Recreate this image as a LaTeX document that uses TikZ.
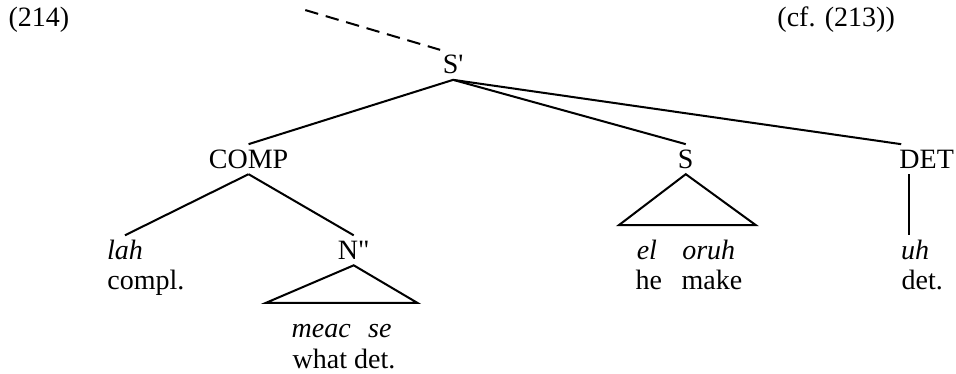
\documentclass[tikz,border=0pt]{standalone}
\usepackage{fontspec}
\setmainfont{Liberation Serif}
\usetikzlibrary{positioning, calc}
\tikzset{
    cat/.style={anchor=base, inner xsep=1pt, inner ysep=2.5pt, text height=8pt, text depth=0pt},
    word/.style={cat, font=\fontsize{12.5}{14}\selectfont\itshape},
    gloss/.style={cat},
    exnum/.style={anchor=base, inner sep=0pt},
    branch/.style={line width=0.9pt},
    trace/.style={line width=0.9pt, dash pattern=on 6pt off 3.5pt},
}

\begin{document}
\begin{tikzpicture}[font=\fontsize{12.5}{14}\selectfont]

    \useasboundingbox (0,0) rectangle (15,5.868);

    % ── Example numbers ───────────────────────────────────────────
    \node[exnum] (num) at (0.61, 5.46) {(214)};
    \node[exnum] (cf)  at (13.12, 5.46) {(cf. (213))};

    % ── Categories ────────────────────────────────────────────────
    \node[cat] (sbar) at (7.11, 4.71) {S\textquotesingle};
    \node[cat] (comp) at (3.90, 3.23) {COMP};
    \node[cat] (s)    at (10.76, 3.23) {S};
    \node[cat] (det)  at (14.54, 3.23) {DET};
    \node[cat] (npp)  at (5.55, 1.80) {N\textquotedbl};

    % ── Words and glosses ─────────────────────────────────────────
    \node[word]  (lah)   at (1.96, 1.80) {lah};
    \node[gloss] (compl) at (2.29, 1.32) {compl.};

    \node[word]  (meac)  at (5.04, 0.58) {meac};
    \node[word]  (se)    at (5.96, 0.58) {se};
    \node[gloss] (what)  at (5.02, 0.09) {what};
    \node[gloss] (sedet) at (5.88, 0.09) {det.};

    \node[word]  (el)    at (10.15, 1.80) {el};
    \node[word]  (oruh)  at (11.12, 1.80) {oruh};
    \node[gloss] (he)    at (10.18, 1.32) {he};
    \node[gloss] (make)  at (11.17, 1.32) {make};

    \node[word]  (uh)    at (14.36, 1.80) {uh};
    \node[gloss] (uhdet) at (14.47, 1.32) {det.};

    % ── Branches ──────────────────────────────────────────────────
    \coordinate (up) at (4.79, 5.71);
    \draw[trace]  (up) -- (sbar.north west);

    \draw[branch] (sbar.south) -- (comp.north);
    \draw[branch] (sbar.south) -- (s.north);
    \draw[branch] (sbar.south) -- ([xshift=-4mm]det.north);

    \draw[branch] (comp.south) -- (lah.north);
    \draw[branch] (comp.south) -- (npp.north);

    \draw[branch] ([xshift=-2.7mm]det.south) -- ([xshift=-2.7mm]det.south |- uh.north);

    % triangles
    \draw[branch] (npp.south) -- ++(-1.38,-0.59) -- ++(2.38,0) -- cycle;
    \draw[branch] (s.south) -- ++(-1.05,-0.80) -- ++(2.15,0) -- cycle;

\end{tikzpicture}
\end{document}
